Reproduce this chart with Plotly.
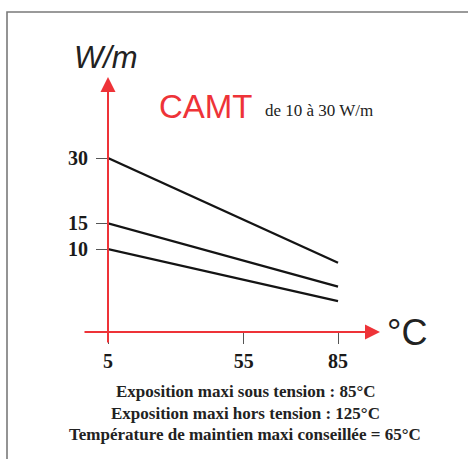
import plotly.graph_objects as go

# ---- data (schematic chart: positions, axis units) ----
temps = [5, 85]
line_30 = [30.0, 11.95]
line_15 = [18.74, 7.81]
line_10 = [14.31, 5.34]

x_tick_pos = [5, 52.2, 85]
x_tick_text = ["5", "55", "85"]
y_tick_pos = [30.0, 18.74, 14.31]
y_tick_text = ["30", "15", "10"]

W, H = 468, 459
ML, MR, MT, MB = 108, 88, 77, 127
X_RANGE = [5, 99.6]
Y_RANGE = [0, 43.97]
RED = "#ee3338"
SERIF = "Liberation Serif"
SANS = "Liberation Sans"

pw = W - ML - MR
ph = H - MT - MB


def px(xp):
    return (xp - ML) / pw


def py(yp):
    return (H - MB - yp) / ph


fig = go.Figure()
for ys in (line_30, line_15, line_10):
    fig.add_trace(go.Scatter(x=temps, y=ys, mode="lines",
                             line=dict(color="#141414", width=2.3),
                             showlegend=False, hoverinfo="skip"))

fig.update_layout(
    width=W, height=H,
    margin=dict(l=ML, r=MR, t=MT, b=MB, pad=0),
    paper_bgcolor="white", plot_bgcolor="white",
    xaxis=dict(range=X_RANGE, showgrid=False, zeroline=False, showline=False,
               tickmode="array", tickvals=x_tick_pos, ticktext=x_tick_text,
               ticks="outside", ticklen=11, tickwidth=1.2, tickcolor="#555",
               tickfont=dict(family=SERIF, size=20, weight="bold", color="#1a1a1a")),
    yaxis=dict(range=Y_RANGE, showgrid=False, zeroline=False, showline=False,
               tickmode="array", tickvals=y_tick_pos, ticktext=y_tick_text,
               ticks="outside", ticklen=11, tickwidth=1.2, tickcolor="#555",
               ticklabelstandoff=4,
               tickfont=dict(family=SERIF, size=20, weight="bold", color="#1a1a1a")),
)

# frame (top and left borders)
fig.add_shape(type="rect", xref="paper", yref="paper",
              x0=px(7), x1=px(490), y0=py(480), y1=py(12),
              line=dict(color="#7a7a7a", width=1.6), layer="below")

# red axes with arrows
fig.add_annotation(x=X_RANGE[0], y=Y_RANGE[1], xref="x", yref="y", text="",
                   showarrow=True, ax=0, ay=(H - MB + 12) - MT,
                   arrowhead=2, arrowsize=1.5, arrowwidth=2, arrowcolor=RED)
fig.add_annotation(x=X_RANGE[1], y=0, xref="x", yref="y", text="",
                   showarrow=True, ax=83 - (W - MR), ay=0,
                   arrowhead=2, arrowsize=1.5, arrowwidth=2, arrowcolor=RED)


def label(x, y, text, font, xanchor="center"):
    fig.add_annotation(x=px(x), y=py(y), xref="paper", yref="paper", text=text,
                       xanchor=xanchor, yanchor="middle", showarrow=False, font=font)


label(106, 57, "<i>W/m</i>", dict(family=SANS, size=31, color="#222"))
label(206, 106, "CAMT", dict(family=SANS, size=33, color=RED))
label(263, 110, "de 10 à 30 W/m", dict(family=SERIF, size=17, color="#222"), "left")
label(407, 332, "°C", dict(family=SANS, size=36, color="#222"))

notes = ["Exposition maxi sous tension : 85°C",
         "Exposition maxi hors tension : 125°C",
         "Température de maintien maxi conseillée = 65°C"]
note_y = [391.5, 413, 434]
for t, yy in zip(notes, note_y):
    label(245, yy, t, dict(family=SERIF, size=17, weight="bold", color="#222"))

fig.write_html("out.html", config={"displayModeBar": False},
               post_script="document.body.style.margin='0';document.body.style.padding='0';")
